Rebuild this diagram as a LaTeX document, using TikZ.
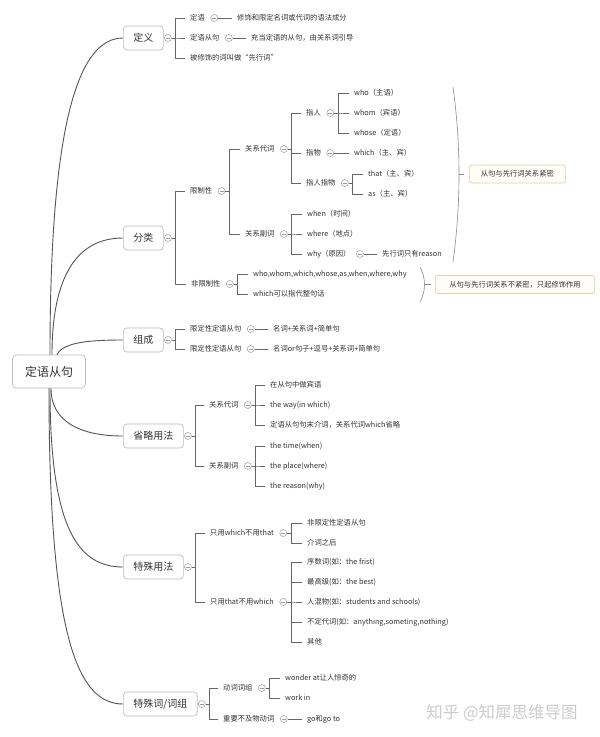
\documentclass[tikz,border=0pt]{standalone}
\usepackage{fontspec}
\setmainfont{Noto Sans CJK SC}
\usetikzlibrary{positioning}

\definecolor{txt}{HTML}{333333}
\definecolor{linec}{HTML}{666666}
\definecolor{stemc}{HTML}{555555}
\definecolor{boxc}{HTML}{B9BCCB}
\definecolor{foldc}{HTML}{9A9A9A}
\definecolor{brac}{HTML}{8C8C8C}
\definecolor{notec}{HTML}{E3CFAE}
\definecolor{notef}{HTML}{FFFDF8}
\definecolor{markc}{HTML}{CCCCCC}

\tikzset{
  rootbox/.style={draw=boxc, line width=0.7pt, rounded corners=4pt, fill=white, inner xsep=12.5pt, minimum height=33pt, text=txt, font=\fontsize{12}{14}\selectfont},
  topic/.style={draw=boxc, line width=0.7pt, rounded corners=3.5pt, fill=white, anchor=west, inner xsep=10pt, minimum height=24pt, text=txt, font=\fontsize{10}{12}\selectfont},
  leaf/.style={anchor=west, inner xsep=5pt, inner ysep=1pt, text=txt, font=\fontsize{7.3}{9}\selectfont},
  fold/.style={circle, draw=foldc, line width=0.5pt, minimum size=7pt, inner sep=0pt, right=0.5pt of #1,
    path picture={\draw[foldc, line width=0.5pt] ([xshift=-2pt]path picture bounding box.center) -- ([xshift=2pt]path picture bounding box.center);}},
  link/.style={draw=linec, line width=0.6pt},
  stem/.style={draw=stemc, line width=0.9pt},
  brace/.style={draw=brac, line width=0.6pt},
  note/.style={draw=notec, line width=0.7pt, fill=notef, rounded corners=2.5pt, anchor=west, minimum height=18pt, inner xsep=11.5pt, text=txt, font=\fontsize{7.3}{9}\selectfont}
}

\begin{document}
\begin{tikzpicture}[x=1pt,y=-1pt]
\fill[white] (0,0) rectangle (600,737);
\useasboundingbox (0,0) rectangle (600,737);

% 中心主题
\node[rootbox] (root) at (49,371.5) {定语从句};

% 分支主题
\node[topic] (dy) at (123,38) {定义};
\node[topic] (fl) at (123,238) {分类};
\node[topic] (zc) at (123,340) {组成};
\node[topic] (sl) at (123,436) {省略用法};
\node[topic] (ts) at (123,567) {特殊用法};
\node[topic] (tc) at (123,704) {特殊词/词组};

\draw[stem] ([xshift=1pt]root.north) .. controls +(0,-230) and +(-45,0) .. (dy.west);
\draw[stem] ([xshift=3pt]root.north) .. controls +(0,-80) and +(-45,0) .. (fl.west);
\draw[stem] ([xshift=8pt]root.north) .. controls +(6,-13) and +(-30,0) .. (zc.west);
\draw[stem] ([xshift=2pt]root.south) .. controls +(0,35) and +(-40,0) .. (sl.west);
\draw[stem] ([xshift=1pt]root.south) .. controls +(0,140) and +(-45,0) .. (ts.west);
\draw[stem] ([xshift=0pt]root.south) .. controls +(0,250) and +(-45,0) .. (tc.west);

% 定义
\node[fold=dy] (dyf) {};
\node[leaf] (dyA) at (185,18) {定语};
\node[leaf] (dyB) at (185,38) {定语从句};
\node[leaf] (dyC) at (185,58) {被修饰的词叫做“先行词”};
\foreach \n in {dyA,dyB,dyC} \draw[link] (dyf.east) -- ++(4,0) |- (\n.west);
\node[fold=dyA] (dyAf) {};
\node[leaf] (dyA1) at (232,18) {修饰和限定名词或代词的语法成分};
\draw[link] (dyAf) -- (dyA1);
\node[fold=dyB] (dyBf) {};
\node[leaf] (dyB1) at (246,38) {充当定语的从句，由关系词引导};
\draw[link] (dyBf) -- (dyB1);

% 分类
\node[fold=fl] (flf) {};
\node[leaf] (xz) at (185,191) {限制性};
\node[leaf] (fx) at (186,284) {非限制性};
\foreach \n in {xz,fx} \draw[link] (flf.east) -- ++(4,0) |- (\n.west);

\node[fold=xz] (xzf) {};
\node[leaf] (gd) at (240,149) {关系代词};
\node[leaf] (gf) at (240,234) {关系副词};
\foreach \n in {gd,gf} \draw[link] (xzf.east) -- ++(4,0) |- (\n.west);

\node[fold=gd] (gdf) {};
\node[leaf] (zr) at (301,113) {指人};
\node[leaf] (zw) at (301,153) {指物};
\node[leaf] (zrw) at (301,183) {指人指物};
\foreach \n in {zr,zw,zrw} \draw[link] (gdf.east) -- ++(4,0) |- (\n.west);

\node[fold=zr] (zrf) {};
\foreach \n/\y/\t in {zr1/93/who（主语）, zr2/113/whom（宾语）, zr3/133/whose（定语）} {
  \node[leaf] (\n) at (349,\y) {\t};
  \draw[link] (zrf.east) -- ++(4,0) |- (\n.west);
}
\node[fold=zw] (zwf) {};
\node[leaf] (zw1) at (349,153) {which（主、宾）};
\draw[link] (zwf) -- (zw1);
\node[fold=zrw] (zrwf) {};
\foreach \n/\y/\t in {zrw1/174/that（主、宾）, zrw2/194/as（主、宾）} {
  \node[leaf] (\n) at (363,\y) {\t};
  \draw[link] (zrwf.east) -- ++(4,0) |- (\n.west);
}

\node[fold=gf] (gff) {};
\foreach \n/\y/\t in {gf1/214/when（时间）, gf2/234/where（地点）, gf3/254/why（原因）} {
  \node[leaf] (\n) at (302,\y) {\t};
  \draw[link] (gff.east) -- ++(4,0) |- (\n.west);
}
\node[fold=gf3] (gf3f) {};
\node[leaf] (gf31) at (377,254) {先行词只有reason};
\draw[link] (gf3f) -- (gf31);

\node[fold=fx] (fxf) {};
\foreach \n/\y/\t in {fx1/274/{who,whom,which,whose,as,when,where,why}, fx2/294/which可以指代整句话} {
  \node[leaf] (\n) at (248,\y) {\t};
  \draw[link] (fxf.east) -- ++(4,0) |- (\n.west);
}

% 概要
\coordinate (k1a) at (453,87);
\coordinate (k1b) at (453,262);
\coordinate (k1m) at (459,174);
\draw[brace] (k1a) .. controls +(8,58) and +(8,-58) .. (k1b);
\node[note] (n1) at (469,174) {从句与先行词关系紧密};
\draw[brace] (k1m) -- ([xshift=-5pt]n1.west);

\coordinate (k2a) at (420,267);
\coordinate (k2b) at (420,302);
\coordinate (k2m) at (424.5,284.5);
\draw[brace] (k2a) .. controls +(6,11) and +(6,-11) .. (k2b);
\node[note, inner xsep=14pt] (n2) at (435,284.5) {从句与先行词关系不紧密，只起修饰作用};
\draw[brace] (k2m) -- ([xshift=-4pt]n2.west);

% 组成
\node[fold=zc] (zcf) {};
\node[leaf] (zc1) at (185,329) {限定性定语从句};
\node[leaf] (zc2) at (185,349) {限定性定语从句};
\foreach \n in {zc1,zc2} \draw[link] (zcf.east) -- ++(4,0) |- (\n.west);
\node[fold=zc1] (zc1f) {};
\node[leaf] (zc11) at (268,329) {名词+关系词+简单句};
\draw[link] (zc1f) -- (zc11);
\node[fold=zc2] (zc2f) {};
\node[leaf] (zc21) at (268,349) {名词or句子+逗号+关系词+简单句};
\draw[link] (zc2f) -- (zc21);

% 省略用法
\node[fold=sl] (slf) {};
\node[leaf] (sl1) at (204,405) {关系代词};
\node[leaf] (sl2) at (204,466) {关系副词};
\foreach \n in {sl1,sl2} \draw[link] (slf.east) -- ++(4,0) |- (\n.west);
\node[fold=sl1] (sl1f) {};
\foreach \n/\y/\t in {sl11/385/在从句中做宾语, sl12/405/{the way(in which)}, sl13/425/定语从句句末介词，关系代词which省略} {
  \node[leaf] (\n) at (265,\y) {\t};
  \draw[link] (sl1f.east) -- ++(4,0) |- (\n.west);
}
\node[fold=sl2] (sl2f) {};
\foreach \n/\y/\t in {sl21/446/{the time(when)}, sl22/466/{the place(where)}, sl23/486/{the reason(why)}} {
  \node[leaf] (\n) at (265,\y) {\t};
  \draw[link] (sl2f.east) -- ++(4,0) |- (\n.west);
}

% 特殊用法
\node[fold=ts] (tsf) {};
\node[leaf] (ts1) at (205,533) {只用which不用that};
\node[leaf] (ts2) at (205,602) {只用that不用which};
\foreach \n in {ts1,ts2} \draw[link] (tsf.east) -- ++(4,0) |- (\n.west);
\node[fold=ts1] (ts1f) {};
\foreach \n/\y/\t in {ts11/523/非限定性定语从句, ts12/543/介词之后} {
  \node[leaf] (\n) at (302,\y) {\t};
  \draw[link] (ts1f.east) -- ++(4,0) |- (\n.west);
}
\node[fold=ts2] (ts2f) {};
\foreach \n/\y/\t in {ts21/562/{序数词(如：the frist)}, ts22/582/{最高级(如：the best)}, ts23/602/{人混物(如：students and schools)}, ts24/622/{不定代词(如：anything,someting,nothing)}, ts25/642/其他} {
  \node[leaf] (\n) at (302,\y) {\t};
  \draw[link] (ts2f.east) -- ++(4,0) |- (\n.west);
}

% 特殊词/词组
\node[fold=tc] (tcf) {};
\node[leaf] (tc1) at (218,688) {动词词组};
\node[leaf] (tc2) at (218,719) {重要不及物动词};
\foreach \n in {tc1,tc2} \draw[link] (tcf.east) -- ++(4,0) |- (\n.west);
\node[fold=tc1] (tc1f) {};
\foreach \n/\y/\t in {tc11/678/wonder at让人惊奇的, tc12/698/work in} {
  \node[leaf] (\n) at (280,\y) {\t};
  \draw[link] (tc1f.east) -- ++(4,0) |- (\n.west);
}
\node[fold=tc2] (tc2f) {};
\node[leaf] (tc21) at (302,719) {go和go to};
\draw[link] (tc2f) -- (tc21);

% 水印
\node[text=markc, font=\fontsize{16.5}{18}\selectfont] (wm) at (502,713) {知乎 @知犀思维导图};
\end{tikzpicture}
\end{document}
